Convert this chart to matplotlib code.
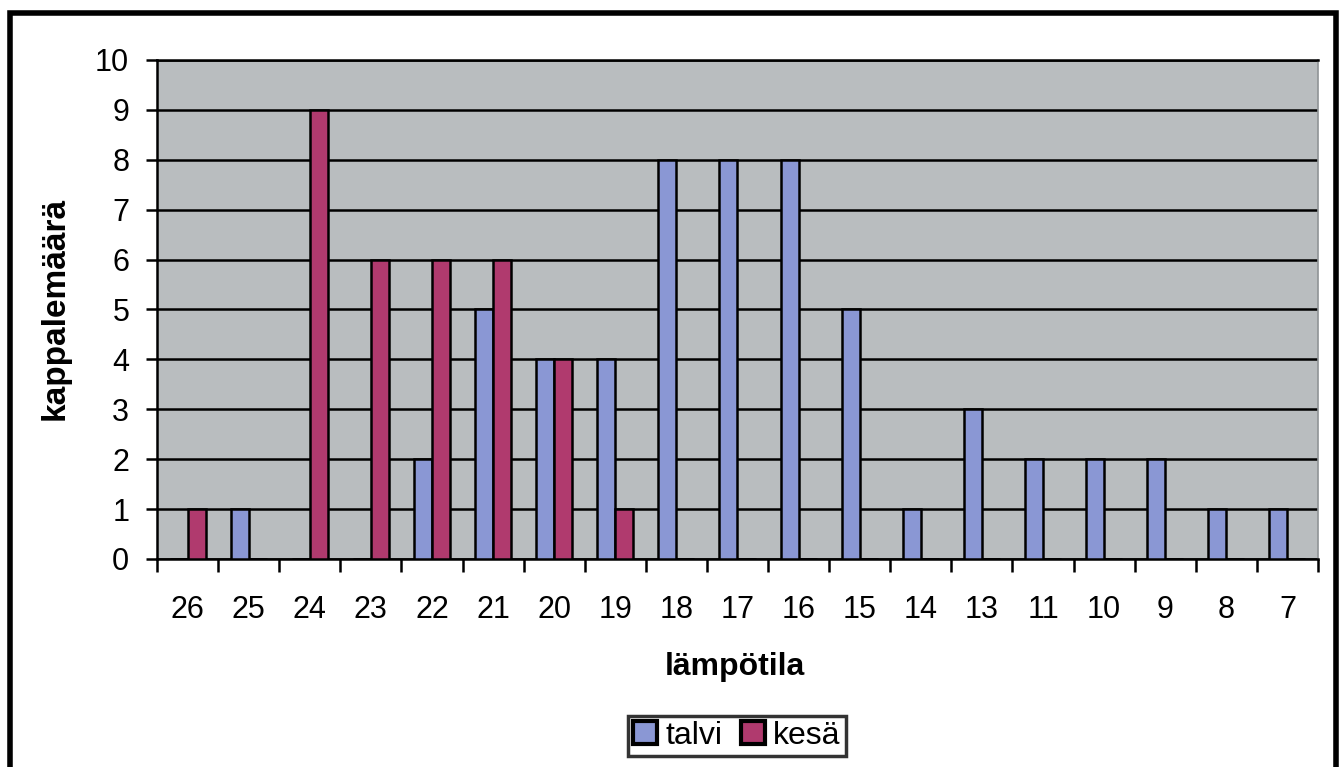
import numpy as np
import matplotlib.pyplot as plt
from matplotlib.patches import Rectangle

plt.rcParams['font.family'] = ['Liberation Sans', 'DejaVu Sans']

# data
categories = ['26', '25', '24', '23', '22', '21', '20', '19', '18', '17',
              '16', '15', '14', '13', '11', '10', '9', '8', '7']
talvi = [0, 1, 0, 0, 2, 5, 4, 4, 8, 8, 8, 5, 1, 3, 2, 2, 2, 1, 1]
kesa = [1, 0, 9, 6, 6, 6, 4, 1, 0, 0, 0, 0, 0, 0, 0, 0, 0, 0, 0]

blue = '#8a97d4'
maroon = '#b03a6e'
bg = '#b9bdbf'

W, H = 1343, 767
fig = plt.figure(figsize=(W / 100, H / 100), dpi=100)
ax = fig.add_axes([157 / W, 1 - 559 / H, (1318 - 157) / W, (559 - 60) / H])
ax.set_facecolor(bg)

x = np.arange(len(categories))
w = 0.295
ax.bar(x - w / 2, talvi, w, color=blue, edgecolor='black', linewidth=1.8, label='talvi', zorder=3)
ax.bar(x + w / 2, kesa, w, color=maroon, edgecolor='black', linewidth=1.8, label='kesä', zorder=3)

ax.set_xlim(-0.5, len(categories) - 0.5)
ax.set_ylim(0, 10)
ax.set_yticks(range(0, 11))
ax.grid(axis='y', color='black', linewidth=1.8, zorder=1)
ax.set_axisbelow(True)

# category boundaries get the tick marks, labels sit in between
ax.set_xticks(np.arange(-0.5, len(categories), 1))
ax.set_xticklabels([])
ax.set_xticks(x, minor=True)
ax.set_xticklabels(categories, minor=True)
ax.tick_params(axis='x', which='major', length=9, width=1.8, direction='out')
ax.tick_params(axis='x', which='minor', length=0, pad=26, labelsize=22)
ax.tick_params(axis='y', length=8, width=1.8, labelsize=22, pad=12)

ax.spines['top'].set_color('black')
ax.spines['top'].set_linewidth(1.8)
ax.spines['right'].set_color('#8f9396')
ax.spines['right'].set_linewidth(1.2)
for s in ['left', 'bottom']:
    ax.spines[s].set_color('black')
    ax.spines[s].set_linewidth(1.8)

fig.text(735 / W, 1 - 667 / H, 'lämpötila', fontsize=23, fontweight='bold',
         ha='center', va='center')
fig.text(55 / W, 1 - 308 / H, 'kappalemäärä', fontsize=24, fontweight='bold',
         ha='center', va='center', rotation=90)

leg = fig.legend(loc='upper center', bbox_to_anchor=(737 / W, 1 - 716 / H), ncol=2,
                 fontsize=23, frameon=True, fancybox=False, edgecolor='black',
                 handlelength=0.75, handleheight=0.75, handletextpad=0.25,
                 columnspacing=0.6, borderpad=0.15, borderaxespad=0)
leg.get_frame().set_linewidth(2.5)
for p in leg.get_patches():
    p.set_linewidth(3)

# outer chart border
fig.patches.append(Rectangle((9.5 / W, -0.02), (1335.5 - 9.5) / W, 1.02 - 12.5 / H,
                             transform=fig.transFigure, fill=False,
                             edgecolor='black', linewidth=4))

fig.savefig('out.png', dpi=100, facecolor='white')
